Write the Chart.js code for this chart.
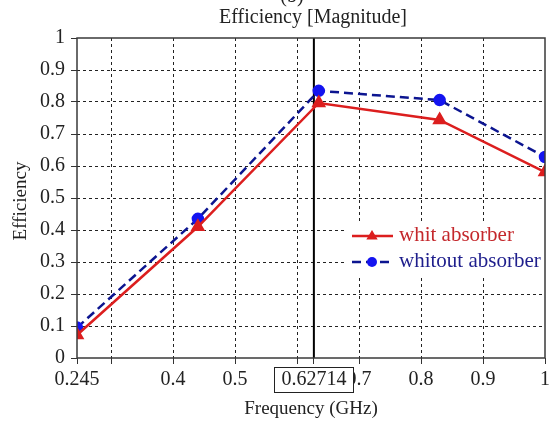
<!DOCTYPE html>
<html>
<head>
<meta charset="utf-8">
<script src="https://cdn.jsdelivr.net/npm/chart.js@4.4.1/dist/chart.umd.min.js"></script>
<style>
  html, body { margin: 0; padding: 0; background: #fff; }
  #wrap { width: 554px; height: 424px; }
</style>
</head>
<body>
<div id="wrap"><canvas id="c" width="554" height="424"></canvas></div>
<script>
// ---- data ----
const freq = [0.245, 0.44, 0.635, 0.83, 1.0];
const withAbsorber = [0.072, 0.41, 0.797, 0.744, 0.581];
const withoutAbsorber = [0.095, 0.435, 0.835, 0.806, 0.628];
const markerFreq = 0.62714;
const xTickValues = [0.245, 0.3, 0.4, 0.5, 0.6, 0.62714, 0.7, 0.8, 0.9, 1];
const xTickLabels = ['0.245', '', '0.4', '0.5', '', '', '0.7', '0.8', '0.9', '1'];
const yTickLabels = ['0', '0.1', '0.2', '0.3', '0.4', '0.5', '0.6', '0.7', '0.8', '0.9', '1'];
const seriesNames = ['whit absorber', 'whitout absorber'];
const chartTitle = 'Efficiency [Magnitude]';
const panelLabel = '(b)';
const xTitle = 'Frequency (GHz)';
const yTitle = 'Efficiency';

const FAMILY = "'Liberation Serif', 'Times New Roman', serif";
const RED = '#dc1e1e';
const BLUE_LINE = '#0c1590';
const BLUE_PT = '#1414f0';

const toPts = (xs, ys) => xs.map((x, i) => ({ x: x, y: ys[i] }));

const deco = {
  id: 'deco',
  beforeDraw(chart) {
    const ctx = chart.ctx;
    ctx.save();
    ctx.fillStyle = '#fff';
    ctx.fillRect(0, 0, chart.width, chart.height);
    ctx.restore();
  },
  afterDraw(chart) {
    const { ctx, chartArea: a, scales: { x } } = chart;
    ctx.save();
    // frame
    ctx.setLineDash([]);
    ctx.strokeStyle = '#3a3a3a';
    ctx.lineWidth = 1.5;
    ctx.strokeRect(a.left, a.top, a.right - a.left, a.bottom - a.top);

    // legend
    const lx0 = 346, ly0 = 222;
    ctx.fillStyle = '#fff';
    ctx.fillRect(lx0, ly0, a.right - lx0 - 1, 55);
    const ds = chart.data.datasets;
    const rows = [
      { y: 236, d: ds[0], txt: seriesNames[0], tc: '#c4282c' },
      { y: 262, d: ds[1], txt: seriesNames[1], tc: '#1e1e8c' }
    ];
    rows.forEach(r => {
      ctx.save();
      ctx.strokeStyle = r.d.borderColor;
      ctx.lineWidth = r.d.borderWidth;
      ctx.setLineDash(r.d.borderDash || []);
      ctx.beginPath();
      ctx.moveTo(352, r.y);
      ctx.lineTo(393, r.y);
      ctx.stroke();
      ctx.restore();
      ctx.fillStyle = r.d.pointBackgroundColor;
      ctx.beginPath();
      if (r.d.pointStyle === 'triangle') {
        const rad = r.d.pointRadius;
        ctx.moveTo(372, r.y - rad);
        ctx.lineTo(372 + rad * 0.95, r.y + rad * 0.6);
        ctx.lineTo(372 - rad * 0.95, r.y + rad * 0.6);
        ctx.closePath();
      } else {
        ctx.arc(372, r.y, r.d.pointRadius, 0, Math.PI * 2);
      }
      ctx.fill();
      ctx.fillStyle = r.tc;
      ctx.font = '21px ' + FAMILY;
      ctx.textAlign = 'left';
      ctx.textBaseline = 'middle';
      ctx.fillText(r.txt, 399, r.y - 1);
    });

    // boxed marker tick label
    const px = x.getPixelForValue(markerFreq);
    ctx.font = '20px ' + FAMILY;
    const lbl = String(markerFreq);
    const w = ctx.measureText(lbl).width;
    ctx.fillStyle = '#fff';
    ctx.fillRect(px - w / 2 - 7, 367, w + 14, 25);
    ctx.strokeStyle = '#222';
    ctx.lineWidth = 1;
    ctx.strokeRect(Math.round(px - w / 2 - 7) + 0.5, 367.5, Math.round(w + 14), 25);
    ctx.fillStyle = '#222';
    ctx.textAlign = 'center';
    ctx.textBaseline = 'middle';
    ctx.fillText(lbl, px, 380);

    // titles
    ctx.fillStyle = '#222';
    ctx.font = '20px ' + FAMILY;
    ctx.textBaseline = 'alphabetic';
    ctx.fillText(panelLabel, 292, 2);
    ctx.fillText(chartTitle, 313, 23);

    ctx.save();
    ctx.translate(21, 201);
    ctx.rotate(-Math.PI / 2);
    ctx.font = '19px ' + FAMILY;
    ctx.textAlign = 'center';
    ctx.textBaseline = 'middle';
    ctx.fillText(yTitle, 0, 0);
    ctx.restore();

    ctx.restore();
  }
};

new Chart(document.getElementById('c'), {
  type: 'scatter',
  data: {
    datasets: [
      {
        label: seriesNames[0],
        data: toPts(freq, withAbsorber),
        showLine: true,
        borderColor: RED,
        backgroundColor: RED,
        pointBackgroundColor: RED,
        pointBorderColor: RED,
        borderWidth: 2.5,
        pointStyle: 'triangle',
        pointRadius: 6,
        pointHoverRadius: 6,
        order: 0
      },
      {
        label: seriesNames[1],
        data: toPts(freq, withoutAbsorber),
        showLine: true,
        borderColor: BLUE_LINE,
        backgroundColor: BLUE_PT,
        pointBackgroundColor: BLUE_PT,
        pointBorderColor: BLUE_PT,
        borderWidth: 2.5,
        borderDash: [9, 5],
        pointStyle: 'circle',
        pointRadius: 5,
        pointHoverRadius: 5,
        order: 1
      },
      {
        label: 'marker',
        data: [{ x: markerFreq, y: 0 }, { x: markerFreq, y: 1 }],
        showLine: true,
        borderColor: '#000',
        borderWidth: 2,
        pointRadius: 0,
        order: 2
      }
    ]
  },
  options: {
    responsive: false,
    animation: false,
    layout: { padding: { left: 0, right: 7, top: 38, bottom: 0 } },
    plugins: {
      legend: { display: false },
      title: { display: false },
      tooltip: { enabled: false }
    },
    scales: {
      x: {
        type: 'linear',
        min: 0.245,
        max: 1,
        afterBuildTicks: s => { s.ticks = xTickValues.map(v => ({ value: v })); },
        afterFit: s => { s.height = 66; },
        ticks: {
          autoSkip: false,
          maxRotation: 0,
          padding: 4,
          color: '#222',
          font: { family: FAMILY, size: 20 },
          callback: (v, i) => xTickLabels[i]
        },
        grid: {
          color: c => (c.tick && (c.tick.value === markerFreq || c.tick.value === 0.245 || c.tick.value === 1)) ? 'rgba(0,0,0,0)' : '#222',
          lineWidth: 1,
          tickLength: 6,
          tickColor: '#333',
          tickWidth: 1,
          tickBorderDash: []
        },
        border: { display: false, dash: [3, 3] },
        title: {
          display: true,
          text: xTitle,
          color: '#222',
          font: { family: FAMILY, size: 19 },
          padding: { top: 0, bottom: 4 }
        }
      },
      y: {
        min: 0,
        max: 1,
        afterBuildTicks: s => { s.ticks = yTickLabels.map(t => ({ value: parseFloat(t) })); },
        afterFit: s => { s.width = 77; },
        ticks: {
          padding: 6,
          color: '#222',
          font: { family: FAMILY, size: 20 },
          callback: (v, i) => yTickLabels[i]
        },
        grid: {
          color: c => (c.tick && (c.tick.value === 0 || c.tick.value === 1)) ? 'rgba(0,0,0,0)' : '#222',
          lineWidth: 1,
          tickLength: 6,
          tickColor: '#333',
          tickWidth: 1,
          tickBorderDash: []
        },
        border: { display: false, dash: [3, 3] }
      }
    }
  },
  plugins: [deco]
});
</script>
</body>
</html>
